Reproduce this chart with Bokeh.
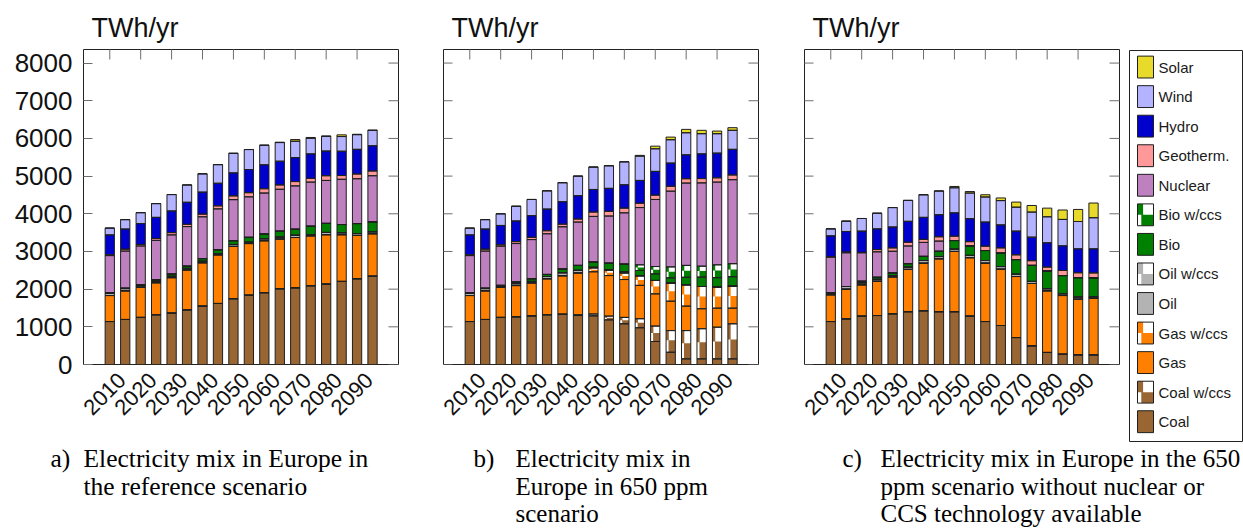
import math
import numpy as np
from bokeh.plotting import figure
from bokeh.models import ColumnDataSource, Range1d, LinearAxis, FixedTicker
from bokeh.layouts import row, column
from bokeh.embed import file_html
from bokeh.resources import INLINE
from bokeh.core.properties import value

# ---------------- data ----------------
years = [2010, 2015, 2020, 2025, 2030, 2035, 2040, 2045, 2050,
         2055, 2060, 2065, 2070, 2075, 2080, 2085, 2090, 2095]
x_tick_years = [2010, 2020, 2030, 2040, 2050, 2060, 2070, 2080, 2090]
y_ticks = [0, 1000, 2000, 3000, 4000, 5000, 6000, 7000, 8000]

techs = ["coal", "coal_ccs", "gas", "gas_ccs", "oil", "oil_ccs", "bio", "bio_ccs",
         "nuclear", "geo", "hydro", "wind", "solar"]
tech_labels = ["Coal", "Coal w/ccs", "Gas", "Gas w/ccs", "Oil", "Oil w/ccs", "Bio", "Bio w/ccs",
               "Nuclear", "Geotherm.", "Hydro", "Wind", "Solar"]
tech_colors = ["#996633", "#996633", "#FF8000", "#FF8000", "#B3B3B3", "#B3B3B3", "#008000", "#008000",
               "#BF80BF", "#FF9999", "#0000CC", "#B3B3FF", "#E8DA2A"]
zeros18 = [0, 0, 0, 0, 0, 0, 0, 0, 0, 0, 0, 0, 0, 0, 0, 0, 0, 0]

# a) reference scenario (TWh/yr)
a_coal = [1140, 1195, 1250, 1320, 1365, 1450, 1550, 1620, 1745, 1840, 1905, 2010, 2035, 2090, 2135, 2205, 2275, 2345]
a_coal_ccs = zeros18
a_gas = [690, 760, 795, 850, 940, 1060, 1150, 1290, 1390, 1370, 1380, 1320, 1335, 1325, 1310, 1240, 1150, 1125]
a_gas_ccs = zeros18
a_oil = [60, 60, 40, 40, 35, 40, 40, 35, 50, 35, 50, 50, 60, 35, 60, 50, 50, 50]
a_oil_ccs = zeros18
a_bio = [10, 10, 30, 40, 60, 60, 70, 100, 100, 130, 130, 160, 160, 220, 240, 220, 265, 265]
a_bio_ccs = zeros18
a_nuclear = [990, 985, 1030, 1045, 1040, 1050, 1110, 1085, 1090, 1075, 1085, 1110, 1150, 1170, 1140, 1200, 1190, 1225]
a_geo = [20, 50, 40, 50, 60, 60, 70, 80, 100, 110, 115, 115, 115, 100, 125, 100, 125, 125]
a_hydro = [530, 535, 555, 560, 575, 585, 585, 600, 610, 615, 635, 630, 635, 650, 655, 645, 655, 670]
a_wind = [180, 250, 290, 365, 435, 460, 485, 495, 520, 530, 520, 495, 435, 415, 390, 390, 390, 405]
a_solar = [0, 0, 0, 0, 0, 0, 0, 0, 0, 0, 0, 10, 45, 20, 10, 45, 10, 15]

# b) 650 ppm scenario
b_coal = [1140, 1195, 1250, 1265, 1290, 1320, 1335, 1300, 1290, 1185, 1080, 975, 610, 325, 150, 150, 150, 150]
b_coal_ccs = [0, 0, 0, 0, 0, 0, 0, 20, 50, 100, 170, 240, 410, 575, 750, 800, 840, 930]
b_gas = [690, 760, 795, 830, 875, 955, 1020, 1110, 1120, 1075, 1005, 885, 855, 780, 650, 530, 505, 415]
b_gas_ccs = [0, 0, 0, 0, 0, 0, 0, 0, 100, 140, 170, 255, 355, 480, 565, 590, 560, 585]
b_oil = [60, 60, 30, 50, 40, 60, 80, 70, 20, 20, 30, 0, 0, 0, 0, 0, 0, 0]
b_oil_ccs = zeros18
b_bio = [10, 10, 25, 45, 70, 55, 100, 130, 140, 170, 210, 140, 175, 140, 200, 250, 250, 250]
b_bio_ccs = [0, 0, 0, 0, 0, 0, 0, 0, 0, 0, 0, 150, 195, 290, 315, 290, 340, 345]
b_nuclear = [990, 985, 1040, 1020, 1040, 1080, 1120, 1150, 1210, 1250, 1360, 1520, 1780, 2010, 2185, 2210, 2195, 2230]
b_geo = [20, 50, 35, 50, 60, 80, 70, 80, 115, 125, 125, 115, 115, 130, 115, 115, 115, 125]
b_hydro = [530, 535, 515, 550, 575, 575, 595, 620, 600, 610, 620, 605, 630, 615, 635, 655, 655, 680]
b_wind = [180, 250, 310, 390, 430, 485, 505, 520, 595, 600, 610, 645, 600, 620, 585, 535, 515, 505]
b_solar = [0, 0, 0, 0, 0, 0, 0, 0, 0, 0, 0, 20, 70, 70, 90, 90, 70, 70]

# c) 650 ppm, no nuclear / no CCS
c_coal = [1140, 1210, 1285, 1300, 1345, 1400, 1425, 1400, 1400, 1285, 1140, 1035, 715, 495, 320, 275, 255, 255]
c_coal_ccs = zeros18
c_gas = [710, 790, 830, 910, 980, 1125, 1265, 1405, 1600, 1550, 1550, 1495, 1620, 1655, 1635, 1555, 1480, 1505]
c_gas_ccs = zeros18
c_oil = [50, 70, 50, 50, 35, 60, 70, 60, 60, 60, 70, 70, 60, 55, 55, 45, 55, 35]
c_oil_ccs = zeros18
c_bio = [0, 0, 45, 55, 70, 90, 110, 140, 230, 250, 265, 355, 390, 425, 470, 485, 515, 505]
c_bio_ccs = zeros18
c_nuclear = [955, 895, 755, 675, 575, 470, 370, 270, 0, 0, 0, 0, 0, 0, 0, 0, 0, 0]
c_geo = [0, 20, 10, 60, 90, 100, 80, 115, 115, 115, 115, 140, 125, 125, 105, 135, 130, 130]
c_hydro = [560, 545, 565, 550, 555, 555, 585, 585, 620, 610, 640, 610, 630, 625, 645, 655, 635, 640]
c_wind = [185, 275, 335, 415, 515, 555, 600, 630, 665, 680, 665, 645, 635, 665, 690, 700, 725, 825]
c_solar = [0, 0, 0, 0, 0, 0, 0, 0, 35, 40, 60, 70, 135, 175, 230, 250, 320, 390]

panel_a = [a_coal, a_coal_ccs, a_gas, a_gas_ccs, a_oil, a_oil_ccs, a_bio, a_bio_ccs,
           a_nuclear, a_geo, a_hydro, a_wind, a_solar]
panel_b = [b_coal, b_coal_ccs, b_gas, b_gas_ccs, b_oil, b_oil_ccs, b_bio, b_bio_ccs,
           b_nuclear, b_geo, b_hydro, b_wind, b_solar]
panel_c = [c_coal, c_coal_ccs, c_gas, c_gas_ccs, c_oil, c_oil_ccs, c_bio, c_bio_ccs,
           c_nuclear, c_geo, c_hydro, c_wind, c_solar]

y_title = "TWh/yr"
captions = [
    ("a)", ["Electricity mix in Europe in", "the reference scenario"]),
    ("b)", ["Electricity mix in", "Europe in 650 ppm", "scenario"]),
    ("c)", ["Electricity mix in Europe in the 650", "ppm scenario without nuclear or",
            "CCS technology available"]),
]

SANS = "Liberation Sans"
SERIF = "Liberation Serif"
FIG_H = 445
FRAME = 315
TOP_B = 49
X_START, X_END = 2001.5, 2103.4
Y_END = 8360
LABEL_SHIFT = 3.9      # years: rotated year labels sit right of their tick, as in the original
BAR_W = 3.0
OUTLINE = "#1f1f1f"
TICK = "#6e6e6e"


def make_panel(series, show_labels, width, left_b, right_b):
    p = figure(width=width, height=FIG_H, title=y_title,
               x_range=Range1d(X_START, X_END), y_range=Range1d(0, Y_END),
               output_backend="svg", toolbar_location=None,
               x_axis_location=None, y_axis_location=None,
               min_border_left=left_b, min_border_right=right_b,
               min_border_top=TOP_B, min_border_bottom=FIG_H - TOP_B - FRAME)
    p.grid.grid_line_color = None
    p.outline_line_color = "#222222"
    p.outline_line_width = 1
    p.background_fill_color = "white"
    p.border_fill_color = "white"
    p.title.text_font = SANS
    p.title.text_font_size = "27px"
    p.title.text_font_style = "normal"
    p.title.text_color = "#111111"
    p.title.align = "left"
    p.title.offset = 8
    p.title.standoff = 14

    data = dict(year=years)
    for t, vals in zip(techs, series):
        data[t] = vals
    src = ColumnDataSource(data)

    # filled segments
    p.vbar_stack(techs, x="year", width=BAR_W, source=src,
                 fill_color=tech_colors, line_color=None)

    # white checker pieces for the "w/ccs" segments (derived from the stacks)
    ox, ow, ob, ot = [], [], [], []
    cum = np.zeros(len(years))
    for t, vals in zip(techs, series):
        v = np.asarray(vals, dtype=float)
        if t.endswith("_ccs"):
            for k in range(len(years)):
                if v[k] > 0:
                    bot = cum[k]
                    top = cum[k] + v[k]
                    mid = bot + 0.55 * v[k]
                    ox.append(years[k] + 0.45); ow.append(2.1); ob.append(mid); ot.append(top)
                    ox.append(years[k] - 1.1); ow.append(0.8); ob.append(bot); ot.append(mid)
        cum = cum + v
    if ox:
        osrc = ColumnDataSource(dict(x=ox, w=ow, b=ob, t=ot))
        p.vbar(x="x", width="w", bottom="b", top="t", source=osrc,
               fill_color="white", line_color=None)

    # outlines
    p.vbar_stack(techs, x="year", width=BAR_W, source=src,
                 fill_color=None, line_color=OUTLINE, line_width=1)

    # inward tick marks on the top, right (and unlabeled left) edges, clipped by the frame
    p.scatter(x=x_tick_years, y=[Y_END] * len(x_tick_years), marker="dash",
              angle=math.pi / 2, size=20, line_color=TICK, line_width=1)
    p.scatter(x=[X_END] * len(y_ticks), y=y_ticks, marker="dash",
              size=20, line_color=TICK, line_width=1)
    if not show_labels:
        p.scatter(x=[X_START] * len(y_ticks), y=y_ticks, marker="dash",
                  size=18, line_color=TICK, line_width=1)

    # bottom axis with rotated year labels
    p.extra_x_ranges = {"labels": Range1d(X_START - LABEL_SHIFT, X_END - LABEL_SHIFT)}
    below = LinearAxis(x_range_name="labels",
                       ticker=FixedTicker(ticks=x_tick_years),
                       major_label_orientation=math.pi / 4,
                       major_tick_in=0, major_tick_out=0,
                       minor_tick_in=0, minor_tick_out=0,
                       axis_line_color=None,
                       major_label_standoff=12,
                       major_label_text_font=SANS,
                       major_label_text_font_size="22px",
                       major_label_text_color="#111111")
    p.add_layout(below, "below")
    if show_labels:
        left = LinearAxis(ticker=FixedTicker(ticks=y_ticks),
                          major_tick_in=9, major_tick_out=0,
                          minor_tick_in=0, minor_tick_out=0,
                          major_tick_line_color=TICK,
                          axis_line_color=None,
                          major_label_standoff=11,
                          major_label_text_font=SANS,
                          major_label_text_font_size="26px",
                          major_label_text_color="#111111")
        p.add_layout(left, "left")
    return p


pA = make_panel(panel_a, True, 418, 83, 20)
pB = make_panel(panel_b, False, 361, 25, 21)
pC = make_panel(panel_c, False, 345, 25, 5)

# ---------------- legend panel ----------------
leg = figure(width=119, height=FIG_H, x_range=Range1d(0, 113), y_range=Range1d(12.67, -0.56),
             output_backend="svg", toolbar_location=None,
             x_axis_location=None, y_axis_location=None,
             min_border_left=5, min_border_right=1, min_border_top=50, min_border_bottom=4)
leg.grid.grid_line_color = None
leg.outline_line_color = "#222222"
leg.outline_line_width = 1

order = list(range(len(techs)))[::-1]  # Solar at top
leg_idx = list(range(len(order)))
leg_names = [tech_labels[k] for k in order]
leg_cols = [tech_colors[k] for k in order]
lsrc = ColumnDataSource(dict(idx=leg_idx, name=leg_names, col=leg_cols))
leg.rect(x=16, y="idx", width=16, height=0.74, source=lsrc, fill_color="col", line_color=None)
ccs_idx = [i for i, k in zip(leg_idx, order) if techs[k].endswith("_ccs")]
if ccs_idx:
    wx, wy, ww, wh = [], [], [], []
    for i in ccs_idx:
        wx.append(18.8); wy.append(i - 0.185); ww.append(10.4); wh.append(0.37)
        wx.append(9.9); wy.append(i + 0.185); ww.append(3.8); wh.append(0.37)
    leg.rect(x=wx, y=wy, width=ww, height=wh, fill_color="white", line_color=None)
leg.rect(x=16, y="idx", width=16, height=0.74, source=lsrc, fill_color=None,
         line_color=OUTLINE, line_width=1)
leg.text(x=29, y="idx", text="name", source=lsrc, text_baseline="middle",
         text_font=value(SANS), text_font_size=value("15px"), text_color="#1a1a1a")

# ---------------- caption strip ----------------
CAP_H = 84
cap = figure(width=1243, height=CAP_H, x_range=Range1d(0, 1243), y_range=Range1d(0, CAP_H),
             output_backend="svg", toolbar_location=None,
             x_axis_location=None, y_axis_location=None, min_border=0)
cap.grid.grid_line_color = None
cap.outline_line_color = None

cap_layout = [(50, 83, "25.5px"), (473, 515, "25px"), (842, 880, "25px")]
for (tag, lines), (xt, xl, fs) in zip(captions, cap_layout):
    cap.text(x=[xt], y=[71], text=[tag], text_baseline="alphabetic",
             text_font=value(SERIF), text_font_size=value(fs), text_color="#000000")
    cap.text(x=[xl] * len(lines), y=[71 - 27.5 * j for j in range(len(lines))], text=lines,
             text_baseline="alphabetic",
             text_font=value(SERIF), text_font_size=value(fs), text_color="#000000")

# the legend sits in its own column so that its box is not aligned to the panels' frames
layout = column(row(pA, pB, pC, column(leg)), cap)

open("out.html", "w").write(file_html(layout, INLINE))
